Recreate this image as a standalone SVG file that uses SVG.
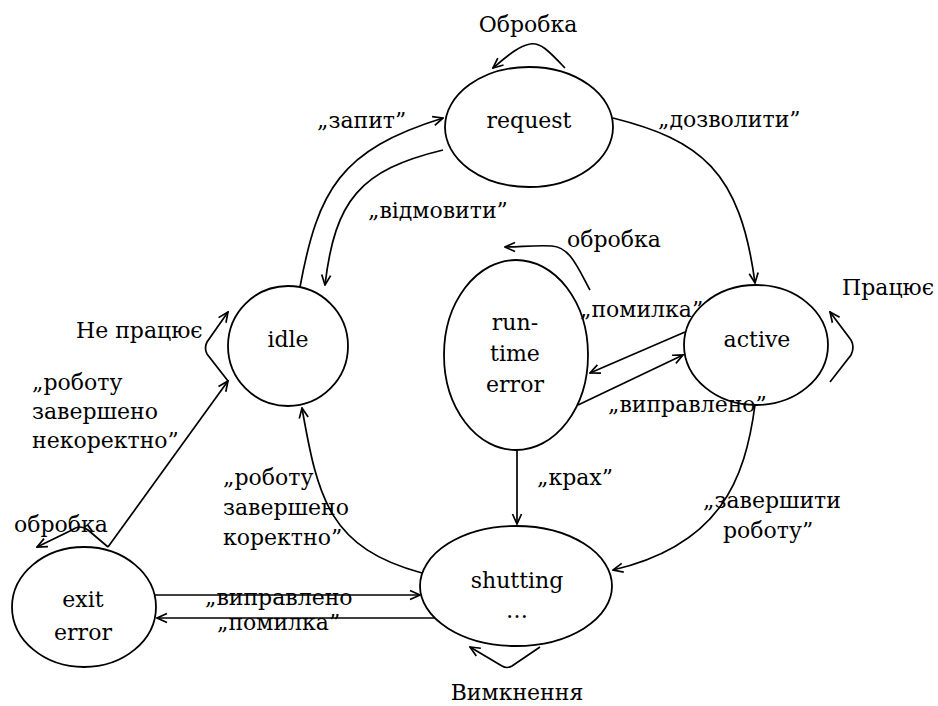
<svg xmlns="http://www.w3.org/2000/svg" width="938" height="706" viewBox="0 0 938 706">
<style>
.node{fill:#fff;stroke:#000;stroke-width:1.8}
text{font-family:"DejaVu Serif","Liberation Serif",serif;font-size:22px;fill:#000}
.m{text-anchor:middle}
.c{fill:none;stroke:#000;stroke-width:1.7}
</style>
<defs>
<marker id="ah" viewBox="-11 -6 12 12" refX="0" refY="0" markerWidth="12" markerHeight="12" orient="auto" markerUnits="userSpaceOnUse">
<path d="M-10,-4.5 L0,0 L-10,4.5" fill="none" stroke="#000" stroke-width="1.7"/>
</marker>
</defs>
<rect width="938" height="706" fill="#fff"/>
<g id="connectors">
<path class="c" d="M565,68 C548,50 540,42 530,44 C518,46 505,58 493,68" marker-end="url(#ah)"/>
<path class="c" d="M300,287 C318,190 340,150 443,118" marker-end="url(#ah)"/>
<path class="c" d="M443,150 C360,170 335,200 325,285" marker-end="url(#ah)"/>
<path class="c" d="M613,118 C700,140 740,170 755,283" marker-end="url(#ah)"/>
<path class="c" d="M590,290 C578,268 570,247 552,246 C535,245 520,247 505,247" marker-end="url(#ah)"/>
<path class="c" d="M830,382 L851,355 Q855,347 851,340 L830,312" marker-end="url(#ah)"/>
<path class="c" d="M685,332 L590,373" marker-end="url(#ah)"/>
<path class="c" d="M578,405 L683,355" marker-end="url(#ah)"/>
<path class="c" d="M517,450 L517,524" marker-end="url(#ah)"/>
<path class="c" d="M755,405 C745,480 720,545 613,570" marker-end="url(#ah)"/>
<path class="c" d="M422,573 C330,548 318,500 302,408" marker-end="url(#ah)"/>
<path class="c" d="M108,547 L228,381" marker-end="url(#ah)"/>
<path class="c" d="M228,381 L207,354 Q204,348 207,342 L228,312" marker-end="url(#ah)"/>
<path class="c" d="M108,547 L88,530 Q80,524 72,530 L37,547" marker-end="url(#ah)"/>
<path class="c" d="M155,595 L420,595" marker-end="url(#ah)"/>
<path class="c" d="M445,618 L157,618" marker-end="url(#ah)"/>
<path class="c" d="M540,647 L512,666 Q507,669 502,666 L470,647" marker-end="url(#ah)"/>
</g>
<g id="request">
<ellipse class="node" cx="529" cy="127" rx="84" ry="60"/>
<text class="m" x="529" y="128">request</text>
</g>
<g id="idle">
<circle class="node" cx="288" cy="346" r="60"/>
<text class="m" x="288" y="347">idle</text>
</g>
<g id="runtime-error">
<ellipse class="node" cx="516" cy="355" rx="72" ry="95"/>
<text class="m" x="515" y="330">run-</text>
<text class="m" x="515" y="361">time</text>
<text class="m" x="515" y="392">error</text>
</g>
<g id="active">
<ellipse class="node" cx="756" cy="345" rx="72" ry="60"/>
<text class="m" x="757" y="347">active</text>
</g>
<g id="shutting">
<ellipse class="node" cx="516" cy="586" rx="96" ry="60"/>
<text class="m" x="517" y="588">shutting</text>
<text class="m" x="517" y="618">…</text>
</g>
<g id="exit-error">
<ellipse class="node" cx="84" cy="607" rx="72" ry="60"/>
<text class="m" x="83" y="607">exit</text>
<text class="m" x="83" y="640">error</text>
</g>
<g id="labels">
<text class="m" x="528" y="32">Обробка</text>
<text x="317" y="128">„запит”</text>
<text x="368" y="218">„відмовити”</text>
<text x="658" y="127">„дозволити”</text>
<text x="567" y="247">обробка</text>
<text x="842" y="295">Працює</text>
<text x="580" y="317">„помилка”</text>
<text x="608" y="412">„виправлено”</text>
<text x="76" y="338">Не працює</text>
<text x="32" y="390">„роботу</text>
<text x="32" y="419">завершено</text>
<text x="32" y="448">некоректно”</text>
<text x="223" y="485">„роботу</text>
<text x="223" y="515">завершено</text>
<text x="223" y="545">коректно”</text>
<text x="537" y="485">„крах”</text>
<text x="703" y="508">„завершити</text>
<text x="723" y="538">роботу”</text>
<text x="14" y="532">обробка</text>
<text x="205" y="605">„виправлено</text>
<text x="217" y="630">„помилка”</text>
<text class="m" x="517" y="700">Вимкнення</text>
</g>
</svg>
